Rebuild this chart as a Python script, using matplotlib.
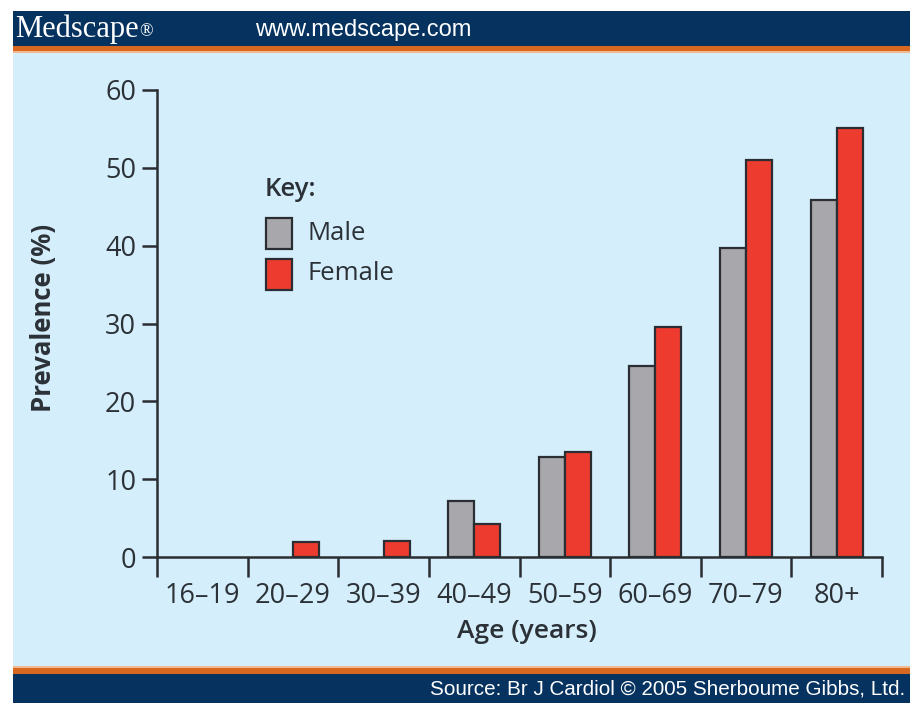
import matplotlib
matplotlib.use("Agg")
import matplotlib.pyplot as plt
from matplotlib.patches import Rectangle
import numpy as np

categories = ["16–19", "20–29", "30–39", "40–49", "50–59", "60–69", "70–79", "80+"]
male = [0.0, 0.0, 0.0, 7.2, 12.9, 24.5, 39.7, 45.9]
female = [0.0, 1.9, 2.1, 4.3, 13.5, 29.5, 51.0, 55.1]
yticks = [0, 10, 20, 30, 40, 50, 60]

W, H = 910, 703
NAVY = "#05325f"
ORANGE = "#d8681f"
BG = "#d4eefb"
GREY = "#a8a7ac"
RED = "#ee3b2f"
EDGE = "#2a2e33"
TXT = "#2b3137"

plt.rcParams['font.family'] = ['Open Sans', 'DejaVu Sans']

fig = plt.figure(figsize=(W / 100, H / 100), dpi=100)
fig.patch.set_facecolor("white")

def frect(x0, y0, x1, y1, color, z=-10):
    # pixel coords (top-left origin)
    fig.patches.append(Rectangle((x0 / W, 1 - y1 / H), (x1 - x0) / W, (y1 - y0) / H,
                                 transform=fig.transFigure, facecolor=color,
                                 edgecolor="none", zorder=z))

frect(13, 11, W, H, BG)
frect(13, 11, W, 46, NAVY)
frect(13, 46, W, 51, ORANGE)
frect(13, 51, W, 53, "#f0b98f")
frect(13, 666, W, 668, "#f0b98f")
frect(13, 668, W, 674, ORANGE)
frect(13, 674, W, H, NAVY)

fig.text(15 / W, 1 - 29 / H, "Medscape", family="Liberation Serif", fontsize=22,
         color="white", va="center", ha="left")
fig.text(139 / W, 1 - 32 / H, "®", family="Liberation Serif", fontsize=13,
         color="white", va="center", ha="left")
fig.text(255 / W, 1 - 30 / H, "www.medscape.com", family="Liberation Sans", fontsize=17,
         color="white", va="center", ha="left")
fig.text(905 / W, 1 - 689 / H, "Source: Br J Cardiol © 2005 Sherboume Gibbs, Ltd.",
         family="Liberation Sans", fontsize=14.9, color="white", va="center", ha="right")

ax = fig.add_axes([157 / W, 1 - 557 / H, (882 - 157) / W, (557 - 90) / H])
ax.set_zorder(1)
ax.set_facecolor("none")
x = np.arange(len(categories)) + 0.5
bw = 0.287
ax.bar(x - bw / 2, male, width=bw, color=GREY, edgecolor=EDGE,
       linewidth=[1.6 if v > 0 else 0 for v in male], zorder=3)
ax.bar(x + bw / 2, female, width=bw, color=RED, edgecolor=EDGE,
       linewidth=[1.6 if v > 0 else 0 for v in female], zorder=3)

ax.set_xlim(0, len(categories))
ax.set_ylim(0, 60)
ax.set_yticks(yticks)
ax.set_yticklabels([str(v) for v in yticks])
ax.set_xticks(np.arange(len(categories) + 1))
ax.set_xticklabels([])
ax.set_xticks(x, minor=True)
ax.set_xticklabels(categories, minor=True)

for s in ["top", "right"]:
    ax.spines[s].set_visible(False)
for s in ["left", "bottom"]:
    ax.spines[s].set_color(EDGE)
    ax.spines[s].set_linewidth(1.8)

ax.tick_params(axis="x", which="major", length=14.5, width=1.8, color=EDGE, direction="out")
ax.tick_params(axis="x", which="minor", length=0, pad=18, labelsize=19.5, labelcolor=TXT)
ax.tick_params(axis="y", length=11, width=1.8, color=EDGE, pad=4, labelsize=19.5, labelcolor=TXT)

fig.text(44 / W, 1 - 318 / H, "Prevalence (%)", rotation=90, fontsize=18.5, fontweight="bold",
         color=TXT, ha="center", va="center")
fig.text(527 / W, 1 - 632 / H, "Age (years)", fontsize=19, fontweight="semibold",
         color=TXT, ha="center", va="center")

# legend (key)
fig.text(265 / W, 1 - 190 / H, "Key:", fontsize=18.5, fontweight="semibold", color=TXT,
         ha="left", va="center")
for (y0, col, lab) in [(218, GREY, "Male"), (259, RED, "Female")]:
    fig.patches.append(Rectangle((266 / W, 1 - (y0 + 31) / H), 26 / W, 31 / H,
                                 transform=fig.transFigure, facecolor=col,
                                 edgecolor=EDGE, linewidth=1.6, zorder=3))
    fig.text(308 / W, 1 - (y0 + 15) / H, lab, fontsize=18.5, color=TXT, ha="left", va="center")

fig.savefig("out.png", dpi=100)
